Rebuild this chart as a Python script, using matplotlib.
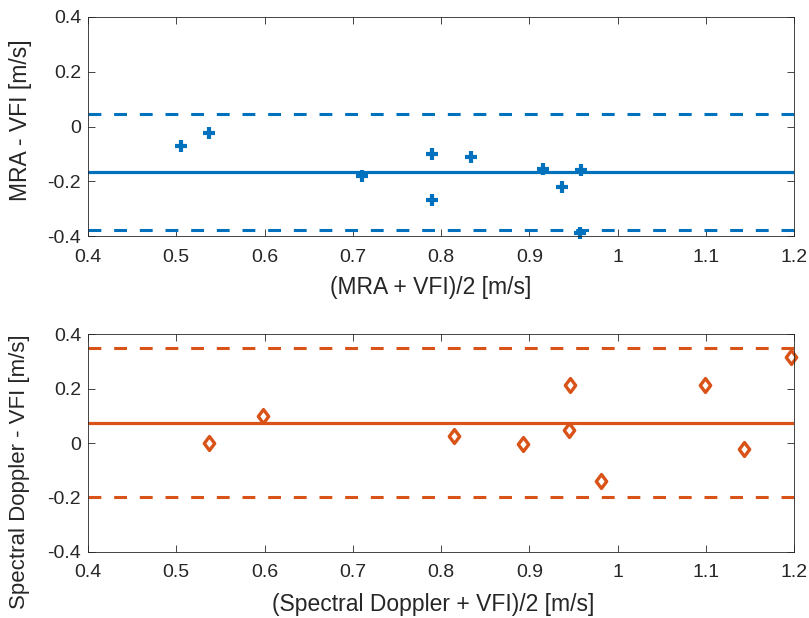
import numpy as np
import matplotlib
matplotlib.use("Agg")
import matplotlib.pyplot as plt
from matplotlib.path import Path

plt.rcParams['font.family'] = ['Liberation Sans', 'DejaVu Sans']

# MRA vs VFI (Bland-Altman)
mra_mean = [0.505, 0.537, 0.710, 0.790, 0.790, 0.834, 0.916, 0.937, 0.959, 0.957]
mra_diff = [-0.07, -0.025, -0.18, -0.10, -0.27, -0.11, -0.155, -0.22, -0.16, -0.39]
mra_bias = -0.167
mra_loa = [0.044, -0.378]

# Spectral Doppler vs VFI
sd_mean = [0.537, 0.598, 0.815, 0.893, 0.945, 0.946, 0.981, 1.099, 1.143, 1.197]
sd_diff = [0.0, 0.099, 0.026, -0.002, 0.048, 0.213, -0.139, 0.213, -0.021, 0.317]
sd_bias = 0.075
sd_loa = [0.347, -0.197]

blue = '#0072BD'
orange = '#D95319'
axcol = '#262626'

# MATLAB style diamond (a bit taller than wide)
diamond = Path([(0, 1), (0.75, 0), (0, -1), (-0.75, 0), (0, 1)],
               [Path.MOVETO, Path.LINETO, Path.LINETO, Path.LINETO, Path.CLOSEPOLY])

fig = plt.figure(figsize=(8.09, 6.18), dpi=100)
ax1 = fig.add_axes([0.1088, 0.6181, 0.8727, 0.3544])
ax2 = fig.add_axes([0.1088, 0.1068, 0.8727, 0.3527])

def style(ax):
    ax.set_xlim(0.4, 1.2)
    ax.set_ylim(-0.4, 0.4)
    ax.set_xticks(np.arange(0.4, 1.21, 0.1))
    ax.set_yticks(np.arange(-0.4, 0.41, 0.2))
    ax.set_xticklabels(['0.4', '0.5', '0.6', '0.7', '0.8', '0.9', '1', '1.1', '1.2'])
    ax.set_yticklabels(['-0.4', '-0.2', '0', '0.2', '0.4'])
    ax.tick_params(direction='in', top=True, right=True, length=5, width=0.6,
                   color=axcol, labelsize=14, labelcolor=axcol)
    ax.tick_params(axis='x', pad=9)
    ax.tick_params(axis='y', pad=5)
    for s in ax.spines.values():
        s.set_color(axcol)
        s.set_linewidth(0.6)

# top panel
ax1.axhline(mra_bias, color=blue, lw=2.3)
for v in mra_loa:
    ax1.axhline(v, color=blue, lw=2.2, dashes=(4.2, 4.2))
ax1.plot(mra_mean, mra_diff, linestyle='none', marker='+', color=blue,
         markersize=8, markeredgewidth=3, clip_on=False)
style(ax1)
ax1.set_xlabel('(MRA + VFI)/2 [m/s]', fontsize=16.5, color=axcol, va='center')
ax1.xaxis.set_label_coords(0.486, -0.237)
ax1.set_ylabel('MRA - VFI [m/s]', fontsize=16.5, color=axcol, va='center', ha='center')
ax1.yaxis.set_label_coords(-0.095, 0.53)

# bottom panel
ax2.axhline(sd_bias, color=orange, lw=2.3)
for v in sd_loa:
    ax2.axhline(v, color=orange, lw=2.2, dashes=(4.2, 4.2))
ax2.plot(sd_mean, sd_diff, linestyle='none', marker=diamond, color=orange,
         markerfacecolor='white', markersize=10, markeredgewidth=2.4, clip_on=False)
style(ax2)
ax2.set_xlabel('(Spectral Doppler + VFI)/2 [m/s]', fontsize=16.5, color=axcol, va='center')
ax2.xaxis.set_label_coords(0.489, -0.243)
ax2.set_ylabel('Spectral Doppler - VFI [m/s]', fontsize=16, color=axcol, va='center', ha='center')
ax2.yaxis.set_label_coords(-0.097, 0.37)

fig.savefig('out.png', dpi=100)
